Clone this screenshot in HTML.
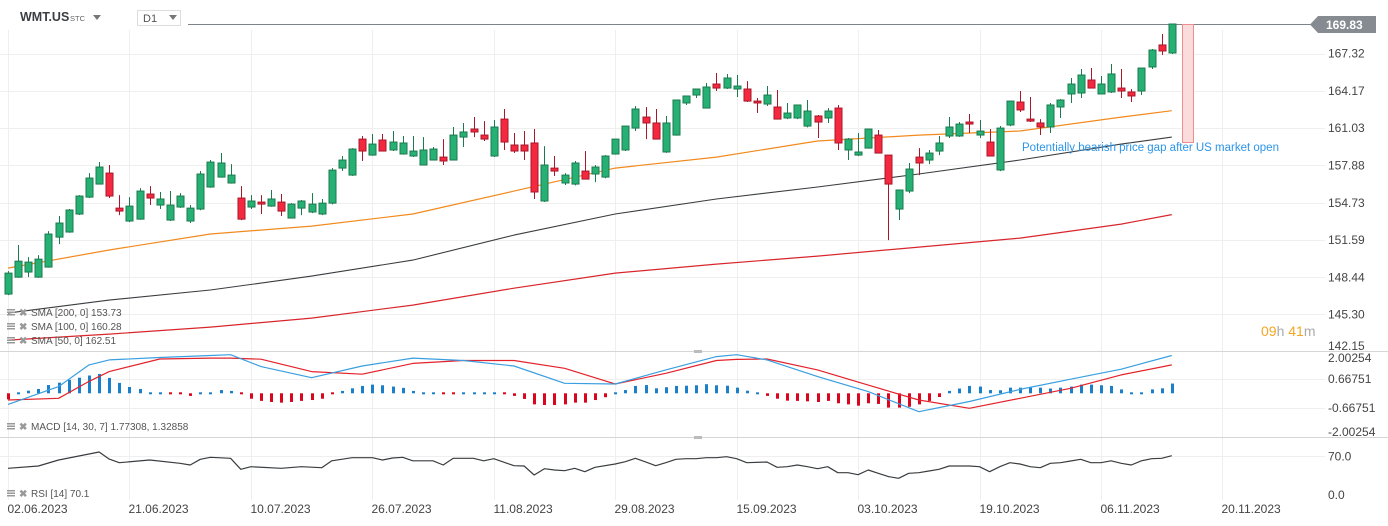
<!DOCTYPE html>
<html><head><meta charset="utf-8"><style>
html,body{margin:0;padding:0;background:#fff;}
svg{display:block;font-family:"Liberation Sans",sans-serif;}
</style></head><body>
<svg id="chart" width="1388" height="526" viewBox="0 0 1388 526" xmlns="http://www.w3.org/2000/svg">
<g id="grid"></g>
<g id="main"></g>
<g id="macdp"></g>
<g id="rsip"></g>
<g id="axes"></g>
<g>
 <rect x="0" y="0" width="188" height="30" fill="#fff"/>
 <text x="20" y="21" font-size="12.5" font-weight="bold" fill="#3a3f44">WMT.US</text>
 <text x="70" y="21" font-size="7.5" fill="#666">STC</text>
 <path d="M93 15 L101 15 L97 20 Z" fill="#777"/>
 <rect x="137.5" y="10.5" width="43" height="15" fill="#fff" stroke="#ddd"/>
 <text x="143" y="22" font-size="11" fill="#555">D1</text>
 <path d="M169 15 L177 15 L173 20 Z" fill="#777"/>
</g>
</svg>
<script>
const dates=["02.06.2023","21.06.2023","10.07.2023","26.07.2023","11.08.2023","29.08.2023","15.09.2023","03.10.2023","19.10.2023","06.11.2023","20.11.2023"];
const dateIdx=[0,12,24,36,48,60,72,84,96,108,120];
const priceTicks=[169.83,167.32,164.17,161.03,157.88,154.73,151.59,148.44,145.30,142.15];
const opens=[147.02,148.45,148.88,148.45,149.30,151.83,152.26,153.78,155.21,156.31,157.24,154.28,153.19,153.35,155.47,154.54,153.27,154.37,153.19,154.20,156.06,156.90,156.40,155.13,154.37,154.79,154.45,154.79,153.44,154.28,153.95,153.78,154.70,157.66,157.07,160.11,158.76,160.03,159.19,158.85,158.68,157.92,158.34,158.59,158.34,160.28,160.96,160.45,158.68,161.80,159.61,159.61,159.78,154.88,157.66,156.40,156.31,157.41,157.16,156.90,158.85,159.19,161.04,161.97,161.47,159.02,160.45,163.16,163.83,162.73,164.76,164.42,164.34,164.34,163.32,163.07,162.82,161.89,161.89,161.21,162.06,161.89,162.73,159.19,158.76,159.35,160.45,158.76,154.20,155.72,158.59,158.34,159.10,160.37,160.37,161.55,160.45,159.86,157.50,161.30,163.24,161.80,161.47,161.13,162.82,163.92,164.00,165.10,163.92,164.09,164.42,164.09,164.17,166.20,168.06,167.38];
const highs=[148.96,151.16,150.14,150.31,152.34,153.61,154.20,155.38,157.24,158.17,157.92,155.38,155.21,155.97,156.14,155.64,155.72,155.55,154.54,157.41,158.34,158.93,158.00,156.14,155.38,155.38,155.81,155.47,154.70,154.96,155.55,155.05,157.66,158.68,159.35,160.37,160.54,160.54,160.79,160.37,160.37,160.28,159.44,160.11,161.13,161.47,161.97,161.63,161.72,162.65,160.62,160.79,160.96,159.52,158.68,157.24,158.26,159.10,157.92,158.76,160.11,161.21,162.90,162.82,162.65,162.06,163.41,163.75,164.34,164.85,165.69,165.61,165.52,165.01,163.58,164.59,164.26,163.16,162.99,163.41,162.14,162.73,162.99,160.20,160.62,160.96,160.88,158.76,155.81,158.09,159.35,159.19,160.37,161.97,161.55,162.23,161.72,160.96,161.21,163.32,164.17,163.66,161.80,163.16,163.49,165.27,166.03,166.11,165.44,166.45,166.03,164.34,166.11,167.72,168.99,169.83];
const lows=[146.93,148.40,148.45,148.40,149.25,151.24,152.20,153.70,155.13,156.30,155.13,153.69,153.10,153.30,154.54,154.20,153.19,154.30,153.02,154.10,156.00,156.85,156.35,153.27,154.20,153.78,154.40,153.61,153.40,153.69,153.86,153.69,154.60,157.41,157.00,158.26,158.70,159.10,159.10,158.80,158.60,157.90,158.30,157.92,158.30,159.44,160.28,159.95,158.60,159.19,158.93,158.34,155.05,154.80,156.99,156.23,156.20,156.73,156.48,156.80,158.80,159.10,160.79,160.11,160.11,158.95,160.40,162.99,163.58,162.70,164.17,164.34,163.66,163.24,162.31,162.90,161.80,161.80,161.80,161.10,160.20,161.47,159.19,158.34,158.68,159.30,158.93,151.58,153.27,155.55,157.07,158.00,158.76,160.20,160.30,160.62,160.20,158.68,157.40,161.20,162.40,161.55,160.45,160.62,161.89,163.16,163.58,164.42,163.90,164.00,163.58,163.24,163.83,166.03,167.21,167.30];
const closes=[148.79,149.80,149.72,149.97,152.09,153.02,154.12,155.30,156.82,157.75,155.30,154.03,154.45,155.72,155.13,155.05,154.54,155.30,154.28,157.16,158.17,158.09,157.07,153.35,154.88,154.62,155.05,154.03,154.62,154.88,154.62,154.70,157.49,158.34,159.27,159.10,159.69,159.10,159.86,159.78,159.10,159.19,159.27,158.26,160.45,160.71,160.71,160.11,161.13,159.86,159.10,159.10,155.64,157.92,157.41,157.07,158.09,156.73,157.75,158.68,160.11,161.21,162.65,161.47,160.11,161.47,163.41,163.75,164.34,164.51,164.42,165.27,164.59,163.32,163.16,163.83,161.80,162.31,162.99,162.48,161.55,162.48,159.78,160.11,159.02,160.96,158.93,156.31,155.81,157.58,158.09,158.93,159.78,161.13,161.38,161.38,160.79,158.68,161.04,163.32,162.57,161.63,161.13,162.99,163.41,164.76,165.52,164.42,164.76,165.61,164.17,163.75,166.11,167.63,167.55,169.83];
const smaIdx=[0,10,20,30,40,50,60,70,80,90,100,110,115];
const sma50=[149.21,150.74,152.09,152.76,153.78,155.72,157.66,158.59,159.95,160.45,160.79,161.97,162.51];
const sma100=[145.41,146.51,147.36,148.54,149.89,152.0,153.78,155.05,156.06,157.16,158.34,159.69,160.28];
const sma200=[143.13,143.64,144.23,144.99,146.09,147.52,148.79,149.55,150.23,150.99,151.75,152.93,153.73];
const histVals=[-0.28,0,0.12,0.2,0.38,0.49,0.62,0.72,0.82,0.89,0.71,0.48,0.29,0.2,0.08,0,-0.05,-0.05,-0.12,0.05,0.06,0.15,0.11,-0.09,-0.25,-0.35,-0.4,-0.43,-0.4,-0.35,-0.31,-0.25,-0.05,0.11,0.23,0.34,0.4,0.37,0.31,0.25,0.11,0.02,0,-0.08,-0.06,0,0.03,0,0.02,-0.03,-0.12,-0.26,-0.51,-0.54,-0.54,-0.51,-0.43,-0.43,-0.31,-0.18,0,0.15,0.34,0.38,0.23,0.28,0.34,0.35,0.37,0.42,0.37,0.35,0.26,0.12,0,-0.12,-0.25,-0.34,-0.35,-0.37,-0.4,-0.35,-0.46,-0.51,-0.57,-0.46,-0.49,-0.66,-0.66,-0.62,-0.51,-0.35,-0.17,0.11,0.22,0.34,0.31,0.15,0.14,0.26,0.26,0.28,0.26,0.22,0.26,0.31,0.4,0.4,0.37,0.34,0.18,0.09,0.08,0.18,0.23,0.45];
const macdIdx=[0,5,8,10,15,20,22,25,30,35,40,45,50,55,60,65,70,72,75,80,85,90,95,100,105,110,115];
const macdVals=[-0.51,0.31,1.31,1.54,1.65,1.74,1.78,1.23,0.72,1.26,1.62,1.51,1.26,0.46,0.43,1.08,1.69,1.78,1.54,0.77,0.08,-0.85,-0.38,0.18,0.65,1.11,1.74];
const signalVals=[-0.31,-0.23,0.55,1.0,1.58,1.62,1.62,1.57,1.0,0.88,1.38,1.51,1.51,1.15,0.43,0.92,1.51,1.56,1.58,1.08,0.38,-0.31,-0.69,-0.23,0.23,0.85,1.31];
const macdTicks=[2.00254,0.66751,-0.66751,-2.00254];
const rsiIdx=[0,3,5,8,9,10,11,14,17,18,19,20,22,23,24,27,29,31,32,34,36,37,38,39,40,42,43,44,46,47,48,50,51,52,53,54,55,56,57,58,60,61,62,63,64,65,66,67,68,69,70,71,72,73,75,76,77,78,79,80,81,82,83,84,85,86,87,88,89,90,91,92,93,95,96,97,98,99,100,101,102,103,104,105,106,107,108,109,110,111,112,113,114,115];
const rsiVals=[47.5,51.7,62.3,73,76.6,64,57.5,62.3,56.4,53.4,63.6,67.1,65.3,45.7,50.4,47.5,50.4,48.7,61,66.5,66.5,62.3,65.9,67.1,61,61,53.4,65.3,65.3,61,64.7,52.2,51.7,35.6,46.9,44.5,43.3,47.5,41.5,49.3,55.2,59.4,65.3,59,52.2,57.5,63.6,64.7,64.7,66.5,66.5,68.3,64.7,57.5,58.7,49.3,50.4,53.4,50.4,46.9,50.4,39.8,39.8,36.2,44.5,38.6,32.7,29.7,38.6,39.8,42.7,45.7,51.7,51.7,50.4,41.5,50.4,57.5,55.2,50.4,48.7,56.4,57.5,60.5,63.6,57.5,57.5,61,56.4,53.4,61,64.7,65.3,70];
const rsiTicks=[70,0];

const NS="http://www.w3.org/2000/svg";
function xI(i){return 8+i*10.12;}
function yP(p){return 24+(169.83-p)*11.84;}
function yM(v){return 393.3-v*21.7;}
function yR(v){return 495-v*0.5614;}
function mk(parent,tag,attrs,text){const e=document.createElementNS(NS,tag);for(const k in attrs)e.setAttribute(k,attrs[k]);if(text!==undefined)e.textContent=text;parent.appendChild(e);return e;}
const grid=document.getElementById('grid'),main=document.getElementById('main'),mp=document.getElementById('macdp'),rp=document.getElementById('rsip'),ax=document.getElementById('axes');

dateIdx.forEach((d,i)=>{
  const x=Math.round(xI(d))+0.5;
  const l=mk(grid,'line',{x1:x,x2:x,y1:30,y2:500,stroke:'#efefef'});
  
  
  const t=mk(ax,'text',{x:x-1,y:513,'font-size':12,fill:'#444'},dates[i]);
  
  
});
priceTicks.forEach((p,i)=>{
  const y=yP(p);
  if(i>0&&i<priceTicks.length-1){
    const l=mk(grid,'line',{x1:0,x2:1325,y1:Math.round(y)+0.5,y2:Math.round(y)+0.5,stroke:'#efefef'});
    
    
  }
  if(i>0){
    const t=mk(ax,'text',{x:1328,y:(i===priceTicks.length-1?346:y)+4,'font-size':12,fill:'#444'},p.toFixed(2));
    
    
  }
});
macdTicks.forEach(v=>{
  const y=yM(v);
  if(v>-2&&v<2){const l=mk(grid,'line',{x1:0,x2:1325,y1:Math.round(y)+0.5,y2:Math.round(y)+0.5,stroke:'#efefef'});
  
  }
  const ty=v>1.9?362:(v<-1.9?436:y+4);
  const t=mk(ax,'text',{x:1328,y:ty,'font-size':12,fill:'#444'},v.toFixed(5));
  
  
});
rsiTicks.forEach(v=>{
  const y=yR(v);
  if(v>0){const l=mk(grid,'line',{x1:0,x2:1325,y1:Math.round(y)+0.5,y2:Math.round(y)+0.5,stroke:'#efefef'});
  
  }
  const t=mk(ax,'text',{x:1328,y:v>0?y+5:y+4,'font-size':12,fill:'#444'},v.toFixed(1));
  
  
});
[351.5,437.5].forEach(y=>{
  const l=mk(grid,'line',{x1:0,x2:1388,y1:y,y2:y,stroke:'#d6d6d6'});
  
  
  const h=mk(grid,'rect',{x:694,y:y-1.5,width:8,height:3,fill:'#bbb'});
  
  
});
const cl=mk(main,'line',{x1:0,x2:1315,y1:24.5,y2:24.5,stroke:'#7d8489'});



function line(parent,idx,vals,fy,color,w,name){
  const d=idx.map((k,j)=>(j?'L':'M')+xI(k).toFixed(1)+' '+fy(vals[j]).toFixed(1)).join(' ');
  const p=mk(parent,'path',{d:d,fill:'none',stroke:color,'stroke-width':w,'stroke-linejoin':'round'});
  
  
}
line(main,smaIdx,sma200,yP,'#d8262c',1.2,'sma-200-line');
line(main,smaIdx,sma100,yP,'#3a3d40',1.1,'sma-100-line');
line(main,smaIdx,sma50,yP,'#f28a1e',1.2,'sma-50-line');

closes.forEach((c,i)=>{
  const o=opens[i],h=highs[i],l=lows[i];
  const up=c>=o;
  const x=Math.round(xI(i));
  const g=mk(main,'g',{});
  
  
  const stroke=up?'#1b7a4e':'#a8172a',fill=up?'#26b074':'#f4283f';
  mk(g,'line',{x1:x+0.5,x2:x+0.5,y1:yP(h),y2:yP(l),stroke:stroke,'stroke-width':1});
  const yt=yP(Math.max(o,c)),yb=yP(Math.min(o,c));
  mk(g,'rect',{x:x-3,y:yt,width:7,height:Math.max(1.5,yb-yt),fill:fill,stroke:stroke,'stroke-width':1});
});
const gr=mk(main,'rect',{x:1182.5,y:24.5,width:11,height:118,fill:'#fbdcdc',stroke:'#f08c8c','stroke-width':1});


const gt=mk(main,'text',{x:1022,y:151,'font-size':11.5,fill:'#2b95ea'},'Potentially bearish price gap after US market open');


const tag=mk(main,'path',{d:'M1310 24.5 L1318 16 L1376 16 L1376 33 L1318 33 Z',fill:'#858b90'});


const tt=mk(main,'text',{x:1326,y:29,'font-size':12,'font-weight':'bold',fill:'#fff'},'169.83');


const cd=mk(main,'text',{x:1261,y:336,'font-size':14},'');


[['09','#f5a623'],['h ','#aaa'],['41','#f5a623'],['m','#aaa']].forEach(s=>mk(cd,'tspan',{fill:s[1]},s[0]));

function legend(parent,y,txt,name){
  const g=mk(parent,'g',{});
  
  
  mk(g,'rect',{x:7,y:y-7,width:8,height:1.5,fill:'#999'});
  mk(g,'rect',{x:7,y:y-4.5,width:8,height:1.5,fill:'#999'});
  mk(g,'rect',{x:7,y:y-2,width:8,height:1.5,fill:'#999'});
  mk(g,'text',{x:19,y:y,'font-size':10,fill:'#999','font-weight':'bold'},'✖');
  mk(g,'text',{x:31,y:y,'font-size':10,fill:'#555'},txt);
}
legend(main,316,'SMA  [200,  0]  153.73','sma-200-legend');
legend(main,330,'SMA  [100,  0]  160.28','sma-100-legend');
legend(main,344,'SMA  [50,  0]  162.51','sma-50-legend');

histVals.forEach((v,i)=>{
  const x=Math.round(xI(i))-1;
  const y0=yM(0),y1=yM(v);
  let top=Math.min(y0,y1),h=Math.abs(y1-y0);
  if(h<2){h=2;top=y0-1;}
  const r=mk(mp,'rect',{x:x,y:top,width:3,height:h,fill:v>=0?'#1b80c9':'#d9061e'});
  
  
});
line(mp,macdIdx,signalVals,yM,'#e3222b',1.2,'macd-signal-line');
line(mp,macdIdx,macdVals,yM,'#3a9fe0',1.2,'macd-line');
legend(mp,430,'MACD  [14,  30,  7]  1.77308,   1.32858','macd-legend');

line(rp,rsiIdx,rsiVals,yR,'#3a3d40',1.2,'rsi-line');
legend(rp,497,'RSI  [14]  70.1','rsi-legend');
</script>
</body></html>
